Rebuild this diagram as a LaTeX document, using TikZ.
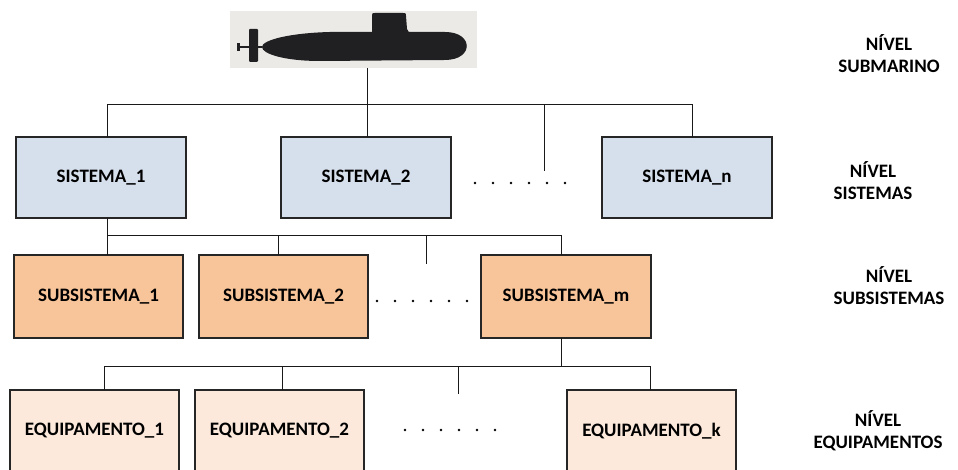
\documentclass[tikz,border=0pt]{standalone}
\usepackage{fontspec}
\setmainfont{Carlito}
\usetikzlibrary{positioning}

\definecolor{sysblue}{RGB}{214,223,236}
\definecolor{subsorange}{RGB}{248,197,154}
\definecolor{equippeach}{RGB}{252,233,220}
\definecolor{subgray}{RGB}{236,234,231}
\definecolor{hullgray}{RGB}{32,32,34}

\tikzset{
    box/.style={draw=black!85, line width=1.1pt, inner sep=0pt, outer sep=0pt,
        minimum width=170pt, minimum height=81pt, font=\fontsize{19}{22}\selectfont\bfseries},
    sysbox/.style={box, fill=sysblue},
    subbox/.style={box, fill=subsorange, minimum width=169pt, minimum height=83pt},
    eqbox/.style={box, fill=equippeach, minimum width=169pt, minimum height=82pt},
    level/.style={align=center, font=\fontsize{19}{22}\selectfont\bfseries},
    link/.style={draw=black!90, line width=0.8pt},
}

\begin{document}
\begin{tikzpicture}[x=1pt, y=1pt]
    \useasboundingbox (0,0) rectangle (958,470);

    % submarine
    \node [fill=subgray, inner sep=0pt, minimum width=247pt, minimum height=57pt] (sub) at (353.5,430.5) {};
    \fill [hullgray] (262,423) .. controls (262,430) and (290,437) .. (330,438) -- (445,438)
        .. controls (474,438) and (474,410) .. (445,410) -- (320,409)
        .. controls (285,409) and (262,416) .. (262,423) -- cycle;
    \fill [hullgray] (372,436) -- (372,454) .. controls (372,457) .. (375,457) -- (403,457)
        .. controls (406,457) .. (406,454) -- (407,441) .. controls (408,438) .. (414,437) -- cycle;
    \fill [hullgray, rounded corners=1pt] (249,408) rectangle (258,441);
    \draw [hullgray, line width=2pt] (237,423) -- (262,423);
    \fill [hullgray] (237,419) rectangle (240,427);

    % sistemas
    \node [sysbox] (s1) at (101,292.5) {SISTEMA\_1};
    \node [sysbox, right=95pt of s1] (s2) {SISTEMA\_2};
    \node [sysbox, right=151pt of s2] (sn) {SISTEMA\_n};

    % subsistemas
    \node [subbox] (ss1) at (98.5,173.5) {SUBSISTEMA\_1};
    \node [subbox, right=16pt of ss1] (ss2) {SUBSISTEMA\_2};
    \node [subbox, right=113pt of ss2, minimum width=170pt] (ssm) {SUBSISTEMA\_m};

    % equipamentos
    \node [eqbox] (e1) at (94.5,39) {EQUIPAMENTO\_1};
    \node [eqbox, right=16pt of e1] (e2) {EQUIPAMENTO\_2};
    \node [eqbox, right=203pt of e2] (ek) {EQUIPAMENTO\_k};

    % niveis
    \node [level] (lvSub) at (889,416.5) {NÍVEL\\SUBMARINO};
    \node [level] (lvSis) at (873,289) {NÍVEL\\SISTEMAS};
    \node [level] (lvSubs) at (889,184.5) {NÍVEL\\SUBSISTEMAS};
    \node [level] (lvEq) at (878,39.5) {NÍVEL\\EQUIPAMENTOS};

    % ligacoes
    \draw [link] ([xshift=1.5pt]s2.north) -- ([xshift=1.5pt]s2.north |- sub.south);
    \draw [link] ([xshift=6pt]s1.north) -- ++(0,33) coordinate (busA) -| ([xshift=5.5pt]sn.north);
    \coordinate (tipA) at (544,299);
    \draw [link] (tipA) -- (tipA |- busA);

    \draw [link] ([xshift=8.5pt]ss1.north) -- ++(0,20) coordinate (busB) -| ([xshift=-5pt]ssm.north);
    \draw [link] ([xshift=6pt]s1.south) -- (busB);
    \draw [link] ([xshift=-5.5pt]ss2.north) -- ++(0,20);
    \coordinate (tipB) at (426,206);
    \draw [link] (tipB) -- (tipB |- busB);

    \draw [link] ([xshift=9.5pt]e1.north) -- ++(0,24) coordinate (busC) -| ([xshift=-1.5pt]ek.north);
    \draw [link] ([xshift=-5pt]ssm.south) -- ++(0,-28);
    \draw [link] ([xshift=2.5pt]e2.north) -- ++(0,24);
    \coordinate (tipC) at (458,76);
    \draw [link] (tipC) -- (tipC |- busC);

    % reticencias
    \foreach \i in {0,...,5} {
        \fill (475+18*\i,287) circle (1.3pt);
        \fill (377+18*\i,169) circle (1.3pt);
        \fill (405+18*\i,40) circle (1.3pt);
    }
\end{tikzpicture}
\end{document}
